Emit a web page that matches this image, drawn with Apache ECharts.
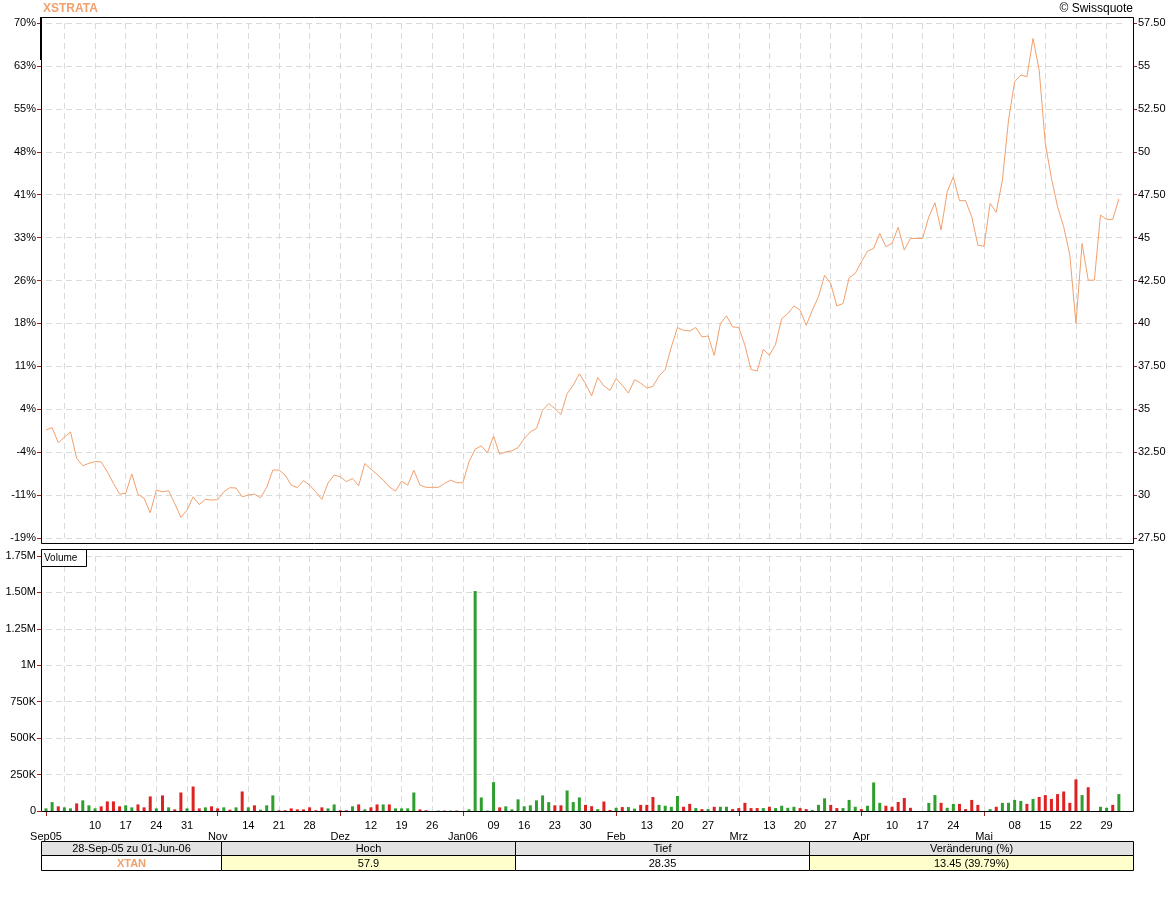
<!DOCTYPE html>
<html><head><meta charset="utf-8">
<script src="https://cdn.jsdelivr.net/npm/echarts@6/dist/echarts.min.js"></script>
<style>html,body{margin:0;padding:0;background:#fff}#c{width:1173px;height:901px}</style>
</head><body><div id="c"></div>
<script>
// ---------- data ----------
const startDate = '2005-09-28';
const endDate = '2006-06-01';
// closing price (CHF) for every weekday of the period (holidays carry the previous close)
const price = [
33.80,33.93,33.05,33.37,33.68,32.14,31.71,31.85,31.95,31.93,
31.36,30.68,30.06,30.10,31.23,30.04,29.81,28.97,30.29,30.19,
30.25,29.51,28.70,29.12,29.90,29.45,29.75,29.71,29.73,30.19,
30.43,30.41,29.90,30.00,30.06,29.84,30.45,31.46,31.46,31.17,
30.58,30.43,30.84,30.58,30.19,29.75,30.70,31.16,31.07,30.78,
30.97,30.54,31.84,31.51,31.20,30.87,30.48,30.23,30.81,30.58,
31.45,30.58,30.45,30.45,30.45,30.68,30.87,30.72,30.72,31.94,
32.67,32.87,32.46,33.43,32.38,32.52,32.58,32.77,33.29,33.68,
33.88,34.94,35.33,35.04,34.69,35.91,36.40,37.07,36.49,35.78,
36.85,36.36,36.10,36.78,36.39,35.94,36.72,36.53,36.24,36.33,
36.94,37.31,38.63,39.76,39.60,39.56,39.76,39.21,39.27,38.14,
39.99,40.44,39.80,39.76,38.73,37.31,37.23,38.49,38.14,38.78,
40.28,40.57,41.02,40.77,39.89,40.77,41.55,42.81,42.32,41.02,
41.16,42.66,42.91,43.59,44.21,44.37,45.24,44.47,44.66,45.60,
44.27,44.95,44.95,44.95,46.21,47.03,45.44,47.67,48.54,47.15,
47.15,46.21,44.56,44.50,46.99,46.47,48.35,51.84,54.08,54.47,
54.37,56.60,54.76,50.49,48.45,46.80,45.63,43.98,40.00,44.66,
42.52,42.52,46.31,46.06,46.06,47.25,null
];
// traded volume in thousands
const volume = [
18,61,32,25,18,52,73,39,18,32,
66,66,32,39,25,45,25,100,18,107,
25,11,127,18,168,18,25,32,18,25,
9,25,134,25,39,9,39,107,5,5,
18,11,11,25,5,25,18,45,5,5,
32,45,11,25,45,45,45,18,18,18,
127,11,5,0,3,3,3,3,0,11,
1510,93,3,198,25,32,11,80,32,39,
73,107,61,39,39,141,61,93,42,33,
13,65,7,22,27,27,16,42,42,96,
42,36,29,103,29,49,20,13,13,29,
29,29,13,20,56,20,20,20,29,20,
36,22,29,20,13,7,42,87,42,20,
20,76,29,13,36,196,56,36,29,62,
89,22,0,0,56,109,56,22,49,49,
13,76,42,0,13,29,56,56,76,69,
49,83,96,109,83,116,134,56,217,109,
163,0,29,22,42,116,0
];
// G = up day (green), R = down day (red)
const volumeSide =
'GGRGGRGGGR'+'RRRGGRRRGR'+'GRRGRRGRRG'+'RGRGRGGGRR'+'RRRRRRGGRR'+
'GRGRRGRGGG'+'GRRGGRGRGG'+'GGGGRGGGGG'+'GGGRRGGGRR'+'GRRGRGGRRR'+
'GGGGRRGRGR'+'GGRRRRRGRG'+'GGGRRGGGRR'+'GGGRGGGRRR'+'RRGGGGRGGR'+
'RRRGGRGGGG'+'RGRRRRRRRG'+'RGGGRGG';
const pctTickLabels = ['-19%','-11%','-4%','4%','11%','18%','26%','33%','41%','48%','55%','63%','70%'];
const volTickLabels = ['0','250K','500K','750K','1M','1.25M','1.50M','1.75M'];
const monthLabels = {
  '2005-09-28':'Sep05','2005-10-03':'','2005-11-07':'Nov','2005-12-05':'Dez',
  '2006-01-02':'Jan06','2006-02-06':'Feb','2006-03-06':'Mrz','2006-04-03':'Apr','2006-05-01':'Mai'
};
const titleText = 'XSTRATA';
const creditText = '\u00a9 Swissquote';
const tableHead = ['28-Sep-05 zu 01-Jun-06','Hoch','Tief','Ver\u00e4nderung (%)'];
const tableRow = ['XTAN','57.9','28.35','13.45 (39.79%)'];

// ---------- helpers ----------
function weekdays(s, e) {
  const out = [];
  let d = new Date(s + 'T00:00:00Z');
  const end = new Date(e + 'T00:00:00Z');
  while (d <= end) {
    const w = d.getUTCDay();
    if (w > 0 && w < 6) out.push(d.toISOString().slice(0, 10));
    d = new Date(d.getTime() + 86400000);
  }
  return out;
}
const dates = weekdays(startDate, endDate);
const isMonday = i => new Date(dates[i] + 'T00:00:00Z').getUTCDay() === 1;
const isWeekLabel = i => isMonday(i) && !(dates[i] in monthLabels);
const isMonthLabel = i => !!monthLabels[dates[i]];

const ORANGE = '#f2a06c';
const GREEN = '#2e9e2e';
const RED = '#dd2222';
const TICKRED = '#a02020';
const GRIDC = '#dadada';
const FONT = 'Liberation Sans, Arial, sans-serif';

const GL = 46, GW = 1079;
const frameL = 41, frameR = 1133;

const splitX = { show: true, interval: (i) => isMonday(i), lineStyle: { color: GRIDC, type: [6, 4], width: 1 } };
const splitY = { show: true, lineStyle: { color: GRIDC, type: [6, 4], width: 1 } };

// ---------- graphics (frames, title, table) ----------
const graphics = [
  { type: 'rect', shape: { x: frameL + 0.5, y: 17.5, width: frameR - frameL, height: 526 }, style: { fill: 'none', stroke: '#000', lineWidth: 1 }, z: 10 },
  { type: 'rect', shape: { x: frameL + 0.5, y: 549.5, width: frameR - frameL, height: 262 }, style: { fill: 'none', stroke: '#000', lineWidth: 1 }, z: 10 },
  { type: 'line', shape: { x1: 41, y1: 17, x2: 41, y2: 60 }, style: { stroke: '#000', lineWidth: 2 }, z: 11 },
  { type: 'rect', shape: { x: frameL + 0.5, y: 549.5, width: 45, height: 17 }, style: { fill: '#fff', stroke: '#000', lineWidth: 1 }, z: 12 },
  { type: 'text', x: 44, y: 558, style: { text: 'Volume', font: '10px ' + FONT, fill: '#000', verticalAlign: 'middle' }, z: 13 },
  { type: 'text', x: 43, y: 9, style: { text: titleText, font: 'bold 12px ' + FONT, fill: ORANGE, verticalAlign: 'middle' }, z: 13 },
  { type: 'text', x: 1133, y: 9, style: { text: creditText, font: '12px ' + FONT, fill: '#000', align: 'right', verticalAlign: 'middle' }, z: 13 }
];
const colX = [41, 221, 515, 809, 1133];
const rowY = [841, 855, 870];
for (let c = 0; c < 4; c++) {
  const x = colX[c] + 0.5, w = colX[c + 1] - colX[c];
  graphics.push({ type: 'rect', shape: { x, y: rowY[0] + 0.5, width: w, height: rowY[1] - rowY[0] }, style: { fill: '#e2e2e2', stroke: '#000', lineWidth: 1 }, z: 10 });
  graphics.push({ type: 'rect', shape: { x, y: rowY[1] + 0.5, width: w, height: rowY[2] - rowY[1] }, style: { fill: (c === 1 || c === 3) ? '#ffffcc' : '#fff', stroke: '#000', lineWidth: 1 }, z: 10 });
  graphics.push({ type: 'text', x: x + w / 2, y: (rowY[0] + rowY[1]) / 2 + 1, style: { text: tableHead[c], font: '11px ' + FONT, fill: '#000', align: 'center', verticalAlign: 'middle' }, z: 11 });
  graphics.push({ type: 'text', x: x + w / 2, y: (rowY[1] + rowY[2]) / 2 + 1, style: { text: tableRow[c], font: (c === 0 ? 'bold ' : '') + '11px ' + FONT, fill: c === 0 ? ORANGE : '#000', align: 'center', verticalAlign: 'middle' }, z: 11 });
}

const option = {
  animation: false,
  backgroundColor: '#fff',
  textStyle: { fontFamily: FONT },
  grid: [
    { left: GL, top: 23, width: GW, height: 515, show: false },
    { left: GL, top: 556, width: GW, height: 255, show: false }
  ],
  xAxis: [
    { type: 'category', gridIndex: 0, data: dates, boundaryGap: false,
      axisLine: { show: false }, axisTick: { show: false }, axisLabel: { show: false }, splitLine: splitX },
    { type: 'category', gridIndex: 1, data: dates, boundaryGap: false,
      axisLine: { show: false }, axisTick: { show: false }, splitLine: splitX,
      axisLabel: { show: true, interval: (i) => isWeekLabel(i), formatter: (v) => v.slice(8, 10), margin: 9, fontSize: 11, color: '#000', fontFamily: FONT } },
    { type: 'category', gridIndex: 1, data: dates, boundaryGap: false, position: 'bottom',
      axisLine: { show: false }, splitLine: { show: false },
      axisTick: { show: true, interval: (i) => isMonthLabel(i), length: 5, lineStyle: { color: TICKRED, width: 1 } },
      axisLabel: { show: true, interval: (i) => isMonthLabel(i), formatter: (v) => monthLabels[v] || '', margin: 20, fontSize: 11, color: '#000', fontFamily: FONT } }
  ],
  yAxis: [
    { type: 'value', gridIndex: 0, position: 'left', offset: GL - frameL, min: 27.5, max: 57.5, interval: 2.5,
      axisLine: { show: false }, axisTick: { show: true, length: 4, lineStyle: { color: TICKRED } },
      axisLabel: { margin: 5, fontSize: 11, color: '#000', fontFamily: FONT, formatter: (v) => pctTickLabels[Math.round((v - 27.5) / 2.5)] },
      splitLine: splitY },
    { type: 'value', gridIndex: 0, position: 'right', offset: frameR - (GL + GW), min: 27.5, max: 57.5, interval: 2.5,
      axisLine: { show: false }, axisTick: { show: true, length: 4, lineStyle: { color: TICKRED } },
      axisLabel: { margin: 5, fontSize: 11, color: '#000', fontFamily: FONT, formatter: (v) => Number.isInteger(v) ? String(v) : v.toFixed(2) },
      splitLine: { show: false } },
    { type: 'value', gridIndex: 1, position: 'left', offset: GL - frameL, min: 0, max: 1750, interval: 250,
      axisLine: { show: false }, axisTick: { show: true, length: 4, lineStyle: { color: TICKRED } },
      axisLabel: { margin: 5, fontSize: 11, color: '#000', fontFamily: FONT, formatter: (v) => volTickLabels[Math.round(v / 250)] },
      splitLine: splitY }
  ],
  series: [
    { type: 'line', xAxisIndex: 0, yAxisIndex: 1, data: price, showSymbol: false, connectNulls: true,
      lineStyle: { color: ORANGE, width: 1 }, itemStyle: { color: ORANGE }, z: 5 },
    { type: 'bar', xAxisIndex: 1, yAxisIndex: 2, barWidth: 3,
      data: volume.map((v, i) => ({ value: v, itemStyle: { color: volumeSide[i] === 'R' ? RED : GREEN } })), z: 5 }
  ],
  graphic: graphics
};
const chart = echarts.init(document.getElementById('c'), null, { renderer: 'canvas' });
chart.setOption(option);
</script>
</body></html>
